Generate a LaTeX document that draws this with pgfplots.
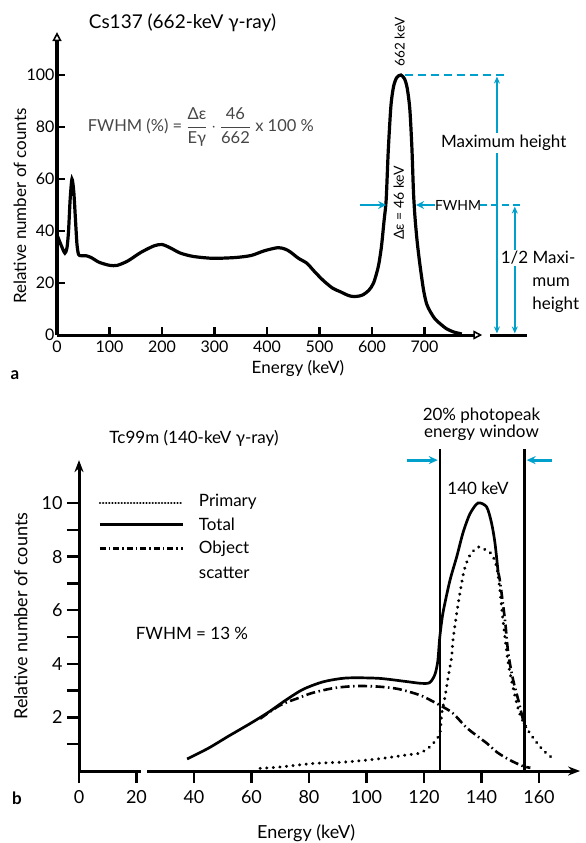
\documentclass[border=0pt]{standalone}
\usepackage{pgfplots}
\pgfplotsset{compat=1.18}
\usepackage{fontspec}
\setmainfont{Lato}
\usetikzlibrary{arrows.meta}
\definecolor{cyanline}{RGB}{0,160,205}
\definecolor{formulagray}{RGB}{70,70,70}
\newcommand\fs[1]{\fontsize{#1}{#1}\selectfont}

\begin{document}
\begin{tikzpicture}
\path[use as bounding box] (0pt,0pt) rectangle (586pt,-843pt);

% ---------------- panel a: Cs137
\begin{axis}[
  at={(57pt,-335pt)}, anchor=south west,
  scale only axis, width=425.25pt, height=302.9pt,
  xmin=0, xmax=810, ymin=0, ymax=116.5,
  axis lines=left, clip=false,
  axis line style={line width=3pt},
  x axis line style={-{Triangle[open,length=9pt,width=9pt,line width=1.6pt]}},
  y axis line style={-{Triangle[open,length=9pt,width=9pt,line width=1.6pt]}},
  xtick={0,100,...,700}, ytick={0,20,...,100},
  tick align=inside, major tick length=8pt,
  tick style={line width=2.2pt, black},
  /pgf/number format/assume math mode=true,
  ticklabel style={font=\fs{16}},
  xticklabel style={yshift=-2pt},
  yticklabel style={xshift=1pt},
  label style={font=\fs{17}},
  xlabel={Energy (keV)},
  x label style={at={(axis cs:459,-12.7)}, anchor=center},
  ylabel={Relative number of counts},
  y label style={at={(axis cs:-70.5,49.6)}, anchor=center, rotate=0},
]
\addplot[black, line width=3.2pt, smooth, tension=0.45] coordinates {
(0,38.5) (5,36) (9,34) (15,31.5) (19,33.5) (22,40) (25,52) (28.5,60) (32,55)
(35,45) (38,35) (41,31) (46,30.5) (55,30.5) (65,29.8) (80,28) (100,26.8)
(115,26.8) (135,28.5) (160,31.8) (185,34.3) (200,34.8) (215,33.6) (235,31.5)
(260,30.2) (297,29.5) (340,29.8) (370,30.6) (395,32.4) (421,33.6) (435,33)
(444,32) (460,29.5) (476,27.6) (490,24.5) (507,21) (525,18) (539,16.7)
(555,15.2) (565,14.8) (576,15) (584,15.6) (594,17.2) (603,20) (612,26.3)
(618,34) (623,44) (627,52) (631,71) (636,88) (641,95.5) (647,99) (655,100)
(662,98.5) (667,95) (672,87) (676,72) (679,55) (682,45) (686,36) (691,27.5)
(698,17.5) (704,12) (711,9) (720,6.2) (730,4.3) (742,2.4) (755,1.2) (771,0.4)
};
% annotations
\node[font=\fs{19}] at (axis cs:239,120) {Cs137 (662-keV γ-ray)};
\node[font=\fs{16.5}, text=formulagray] at (axis cs:274,80)
  {FWHM (\%) = $\displaystyle\frac{\mbox{Δε}}{\mbox{Eγ}}\cdot\frac{\mbox{46}}{\mbox{662}}$ x 100 \%};
\node[font=\fs{13.5}, rotate=90] at (axis cs:653,112.7) {662 keV};
\node[font=\fs{14}, rotate=90] at (axis cs:651,50.8) {Δε = 46 keV};
\draw[cyanline, line width=2.6pt, dash pattern=on 8pt off 5pt] (axis cs:663,100) -- (axis cs:853,100);
\draw[cyanline, line width=2.5pt, {Stealth[length=7pt,width=6pt]}-{Stealth[length=7pt,width=6pt]}] (axis cs:838,0.6) -- (axis cs:838,99.4);
\draw[cyanline, line width=2.5pt, {Stealth[length=7pt,width=6pt]}-{Stealth[length=7pt,width=6pt]}] (axis cs:872,0.6) -- (axis cs:872,49.4);
\draw[cyanline, line width=2.6pt, -{Stealth[length=8pt,width=8pt]}] (axis cs:577,50) -- (axis cs:627,50);
\draw[cyanline, line width=2.6pt, -{Stealth[length=8pt,width=8pt]}] (axis cs:720,50) -- (axis cs:684,50);
\draw[cyanline, line width=2.6pt, dash pattern=on 7pt off 4pt] (axis cs:806,50) -- (axis cs:886,50);
\node[font=\fs{14}] at (axis cs:764,50) {FWHM};
\draw[black, line width=3pt] (axis cs:825,0) -- (axis cs:895,0);
\node[font=\fs{17}, fill=white, inner sep=2pt] at (axis cs:851,73.8) {Maximum height};
\node[font=\fs{17}, fill=white, inner sep=1pt, anchor=west] at (axis cs:843,29.6) {1/2 Maxi-};
\node[font=\fs{17}, anchor=west, inner sep=0pt] at (axis cs:905,20.4) {mum};
\node[font=\fs{17}, anchor=west, inner sep=0pt] at (axis cs:905,11.5) {height};
\node[font=\bfseries\fs{17}] at (axis cs:-80,-15.4) {a};
\end{axis}

% ---------------- panel b: Tc99m
\begin{axis}[
  at={(79pt,-771pt)}, anchor=south west,
  scale only axis, width=501.1pt, height=310.9pt,
  xmin=0, xmax=174.3, ymin=0, ymax=11.6,
  axis lines=left, clip=false,
  axis line style={line width=3pt},
  x axis line style={-{Stealth[length=12pt,width=9pt]}},
  y axis line style={-{Stealth[length=12pt,width=9pt]}},
  xtick={0,20,...,160}, ytick={2,4,...,10}, minor ytick={1,3,...,9},
  tick align=outside, major tick length=12pt, minor tick length=12pt,
  tick style={line width=2.5pt, black},
  /pgf/number format/assume math mode=true,
  ticklabel style={font=\fs{18}},
  xticklabel style={yshift=-4pt},
  yticklabel style={xshift=-1pt},
  label style={font=\fs{18}},
  xlabel={Energy (keV)},
  x label style={at={(axis cs:79,-2.31)}, anchor=center},
  ylabel={Relative number of counts},
  y label style={at={(axis cs:-20.2,5.78)}, anchor=center, rotate=0},
]
% Object scatter
\addplot[black, line width=2.6pt, smooth, tension=0.5, dash pattern=on 9pt off 3.5pt on 1.5pt off 3.5pt] coordinates {
(63,1.95) (69.9,2.45) (77,2.75) (81.4,2.92) (89,3.1) (96.7,3.17) (104,3.15)
(110.6,3.07) (116,2.92) (119.7,2.78) (125.6,2.45) (130,2.16) (135,1.6)
(141.8,1.04) (145.4,0.7) (150,0.4) (154.5,0.18) (157,0.12)
};
% Total
\addplot[black, line width=2.7pt, smooth, tension=0.45] coordinates {
(37.6,0.45) (45,0.85) (52,1.3) (60,1.8) (66,2.2) (72,2.65) (78,3.05)
(85,3.33) (93,3.47) (104,3.46) (113,3.35) (119,3.27) (122,3.3) (123.8,3.6)
(124.8,4.1) (125.5,5.0) (126.6,5.9) (129,7.1) (131.4,8.0) (133.6,8.9) (136,9.6)
(138.8,10.0) (141.8,9.85) (143.5,9.25) (144.7,8.5) (145.8,7.4)
};
% Total, falling side drawn dash-dotted
\addplot[black, line width=2.6pt, smooth, dash pattern=on 9pt off 3.5pt on 1.5pt off 3.5pt] coordinates {
(145.8,7.4) (146.4,7.1) (148.2,5.6) (149.3,4.4) (151,3.4) (152.8,2.65) (154.5,1.9) (155.5,1.6)
};
% Primary
\addplot[black, line width=3.2pt, smooth, tension=0.45, line cap=round, dash pattern=on 0.1pt off 6.5pt] coordinates {
(63,0.1) (70,0.15) (81.4,0.28) (93.2,0.34) (104.7,0.46) (114,0.6) (118.6,0.67)
(122,0.9) (124.5,1.2) (125.6,1.45) (126.2,2.16) (127.3,2.76) (128.4,3.5)
(129.6,4.25) (130.1,4.9) (131.4,5.9) (132.5,6.64) (134,7.5) (136,8.06)
(138.8,8.36) (140.5,8.3) (143.5,8.1) (145.3,7.6) (146.4,6.75) (147.5,5.6)
(149.2,4.1) (151,3.1) (153.4,2.1) (156.9,1.4) (161.4,0.78) (165.6,0.41)
};
% energy window
\draw[black, line width=2.3pt] (axis cs:125.5,0) -- (axis cs:125.5,12.0);
\draw[black, line width=2.3pt] (axis cs:155,0) -- (axis cs:155,12.0);
\draw[cyanline, line width=2.8pt, -{Stealth[length=9pt,width=8pt]}] (axis cs:114,11.6) -- (axis cs:124.8,11.6);
\draw[cyanline, line width=2.8pt, -{Stealth[length=9pt,width=8pt]}] (axis cs:164.5,11.6) -- (axis cs:155.7,11.6);
% axis break
\fill[white] (axis cs:21.4,-0.2) rectangle (axis cs:23.8,0.2);
% legend
\draw[black, line width=2.4pt, line cap=round, dash pattern=on 0.1pt off 3pt] (axis cs:7.3,10) -- (axis cs:36.2,10);
\draw[black, line width=2.7pt] (axis cs:7.3,9.2) -- (axis cs:36.2,9.2);
\draw[black, line width=2.6pt, dash pattern=on 6pt off 3pt on 1.5pt off 3pt] (axis cs:7.3,8.3) -- (axis cs:36.2,8.3);
\node[font=\fs{17}, anchor=west] at (axis cs:40.5,10.05) {Primary};
\node[font=\fs{17}, anchor=west] at (axis cs:40.5,9.2) {Total};
\node[font=\fs{17}, anchor=west] at (axis cs:40.5,8.3) {Object};
\node[font=\fs{17}, anchor=west] at (axis cs:40.5,7.4) {scatter};
% texts
\node[font=\fs{17}] at (axis cs:40,12.4) {Tc99m (140-keV γ-ray)};
\node[font=\fs{17}, align=center] at (axis cs:140,12.95) {20\% photopeak\\energy window};
\node[font=\fs{17}] at (axis cs:138.8,10.56) {140 keV};
\node[font=\fs{17}] at (axis cs:39.3,5.15) {FWHM = 13 \%};
\node[font=\bfseries\fs{17}] at (axis cs:-21.6,-1.0) {b};
\end{axis}
\end{tikzpicture}
\end{document}
